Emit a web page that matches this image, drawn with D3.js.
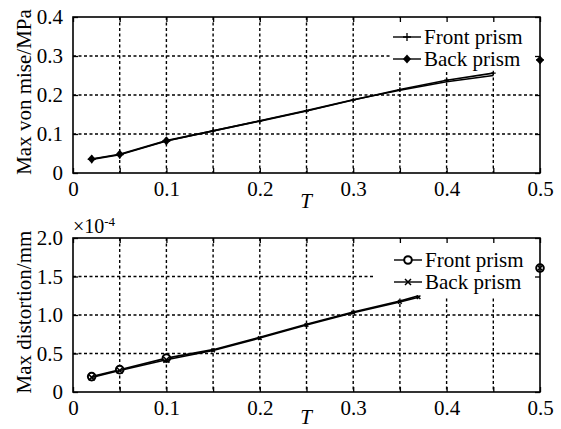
<!DOCTYPE html>
<html>
<head>
<meta charset="utf-8">
<script src="https://cdn.jsdelivr.net/npm/d3@7"></script>
</head>
<body style="margin:0; background:#fff">
<svg id="chart" width="561" height="429"></svg>
<script>
// x ticks (T) shared by both panels
const xTicks = [0, 0.05, 0.1, 0.15, 0.2, 0.25, 0.3, 0.35, 0.4, 0.45, 0.5];
const xTickLabels = ["0", "", "0.1", "", "0.2", "", "0.3", "", "0.4", "", "0.5"];

// top panel: max von Mises stress
const stressT = [0.02, 0.05, 0.1, 0.15, 0.2, 0.25, 0.3, 0.35, 0.4, 0.45];
const stressFront = [0.035, 0.047, 0.082, 0.108, 0.133, 0.159, 0.187, 0.214, 0.238, 0.256];
const stressBack = [0.036, 0.048, 0.083, 0.108, 0.134, 0.160, 0.188, 0.212, 0.234, 0.250];
const stressStray = [[0.5, 0.29]];
const stressTicks = [0, 0.1, 0.2, 0.3, 0.4];
const stressTickLabels = ["0", "0.1", "0.2", "0.3", "0.4"];

// bottom panel: max distortion (x1e-4 mm)
const distT = [0.02, 0.05, 0.1, 0.15, 0.2, 0.25, 0.3, 0.35, 0.37];
const distFront = [0.20, 0.29, 0.44, 0.55, 0.71, 0.88, 1.04, 1.18, 1.25];
const distBack = [0.19, 0.28, 0.42, 0.54, 0.70, 0.87, 1.03, 1.17, 1.23];
const distStray = [[0.5, 1.61]];
const distTicks = [0, 0.5, 1.0, 1.5, 2.0];
const distTickLabels = ["0", "0.5", "1.0", "1.5", "2.0"];

const FONT = '"Liberation Serif"';
const svg = d3.select("#chart");

function marker(g, type, x, y, big) {
	const s = big ? 1 : 0.6;
	if (type === "plus") {
		g.append("path").attr("d", `M${x-4*s},${y}H${x+4*s}M${x},${y-4*s}V${y+4*s}`)
			.attr("stroke", "#000").attr("stroke-width", 1.3);
	} else if (type === "diamond") {
		if (!big) return;
		g.append("path").attr("d", `M${x},${y-4.5}L${x+4},${y}L${x},${y+4.5}L${x-4},${y}Z`)
			.attr("fill", "#000");
	} else if (type === "circle") {
		if (!big) return;
		g.append("circle").attr("cx", x).attr("cy", y).attr("r", 3.8)
			.attr("fill", "#fff").attr("stroke", "#000").attr("stroke-width", 2);
	} else if (type === "cross") {
		g.append("path").attr("d", `M${x-3*s},${y-3*s}L${x+3*s},${y+3*s}M${x-3*s},${y+3*s}L${x+3*s},${y-3*s}`)
			.attr("stroke", "#000").attr("stroke-width", 1.5);
	}
}

function styleText(sel, size) {
	return sel.attr("font-family", null).style("font-family", FONT).style("font-size", size + "px").style("fill", "#000");
}

function drawPanel(p) {
	const x = d3.scaleLinear().domain([0, 0.5]).range([73, 540]);
	const y = d3.scaleLinear().domain([0, p.yMax]).range([p.bottom, p.top]);
	const g = svg.append("g");

	// grid
	const grid = g.append("g").attr("stroke", "#000").attr("stroke-width", 1.4)
		.attr("stroke-dasharray", "3,2.5");
	grid.selectAll(".vg").data(xTicks.slice(1, -1)).enter().append("line")
		.attr("x1", d => x(d)).attr("x2", d => x(d))
		.attr("y1", p.top).attr("y2", p.bottom);
	grid.selectAll(".hg").data(p.yTicks.slice(1, -1)).enter().append("line")
		.attr("x1", 73).attr("x2", 540)
		.attr("y1", d => y(d)).attr("y2", d => y(d));

	// legend background covers the grid
	g.append("rect").attr("x", p.legend[0]).attr("y", p.top + 1)
		.attr("width", 539 - p.legend[0]).attr("height", p.legend[1] - p.top - 1)
		.attr("fill", "#fff");

	// lines
	const line = d3.line().x(d => x(d[0])).y(d => y(d[1]));
	[[p.front, p.fm], [p.back, p.bm]].forEach(([vals, m]) => {
		const pts = p.t.map((t, i) => [t, vals[i]]);
		g.append("path").datum(pts).attr("d", line)
			.attr("fill", "none").attr("stroke", "#000").attr("stroke-width", 1.6);
		pts.forEach(d => marker(g, m, x(d[0]), y(d[1]), d[0] <= 0.1));
	});
	p.stray.forEach(d => {
		marker(g, p.fm, x(d[0]), y(d[1]), true);
		marker(g, p.bm, x(d[0]), y(d[1]), true);
	});

	// frame
	g.append("rect").attr("x", 73).attr("y", p.top).attr("width", 467)
		.attr("height", p.bottom - p.top).attr("fill", "none")
		.attr("stroke", "#000").attr("stroke-width", 1.6);

	// ticks (inside, on all four sides)
	const xAxB = d3.axisBottom(x).tickValues(xTicks).tickSize(-5).tickFormat((d, i) => xTickLabels[i]).tickPadding(8);
	const xAxT = d3.axisTop(x).tickValues(xTicks).tickSize(-5).tickFormat("");
	const yAxL = d3.axisLeft(y).tickValues(p.yTicks).tickSize(-5).tickFormat((d, i) => p.yTickLabels[i]).tickPadding(10);
	const yAxR = d3.axisRight(y).tickValues(p.yTicks).tickSize(-5).tickFormat("");
	[[xAxB, `translate(0,${p.bottom})`], [xAxT, `translate(0,${p.top})`],
	 [yAxL, "translate(73,0)"], [yAxR, "translate(540,0)"]].forEach(([ax, tr]) => {
		const a = g.append("g").attr("transform", tr).call(ax);
		a.attr("font-family", null).attr("font-size", null);
		a.select(".domain").remove();
		a.selectAll("line").attr("stroke", "#000").attr("stroke-width", 1.3);
		styleText(a.selectAll("text"), 21);
	});

	// axis titles
	styleText(g.append("text").attr("x", 306).attr("y", p.bottom + p.tOffset).attr("text-anchor", "middle")
		.text("T"), 21).style("font-style", "italic");
	styleText(g.append("text").attr("transform", `translate(31,${(p.top + p.bottom) / 2 - 3}) rotate(-90)`)
		.attr("text-anchor", "middle").text(p.ylabel), 21);

	// legend
	const names = ["Front prism", "Back prism"];
	[p.fm, p.bm].forEach((m, i) => {
		const ly = p.legendY[i];
		g.append("line").attr("x1", p.legendX).attr("x2", p.legendX + 28)
			.attr("y1", ly).attr("y2", ly).attr("stroke", "#000").attr("stroke-width", 1.4);
		marker(g, m, p.legendX + 14, ly, true);
		styleText(g.append("text").attr("x", p.legendX + 31).attr("y", ly + 7).text(names[i]), 21);
	});
	return g;
}

drawPanel({
	top: 17, bottom: 173, yMax: 0.4, tOffset: 35,
	yTicks: stressTicks, yTickLabels: stressTickLabels,
	t: stressT, front: stressFront, back: stressBack, stray: stressStray,
	fm: "plus", bm: "diamond",
	ylabel: "Max von mise/MPa",
	legend: [390, 72], legendX: 393, legendY: [37, 59]
});

const g2 = drawPanel({
	top: 238, bottom: 392, yMax: 2.0, tOffset: 32,
	yTicks: distTicks, yTickLabels: distTickLabels,
	t: distT, front: distFront, back: distBack, stray: distStray,
	fm: "circle", bm: "cross",
	ylabel: "Max distortion/mm",
	legend: [374, 296], legendX: 394, legendY: [260, 282]
});

// exponent label
const ex = styleText(g2.append("text").attr("x", 73).attr("y", 233), 20);
ex.append("tspan").text("\u00d710");
ex.append("tspan").attr("dy", -7).style("font-size", "13px").text("-4");
</script>
</body>
</html>
